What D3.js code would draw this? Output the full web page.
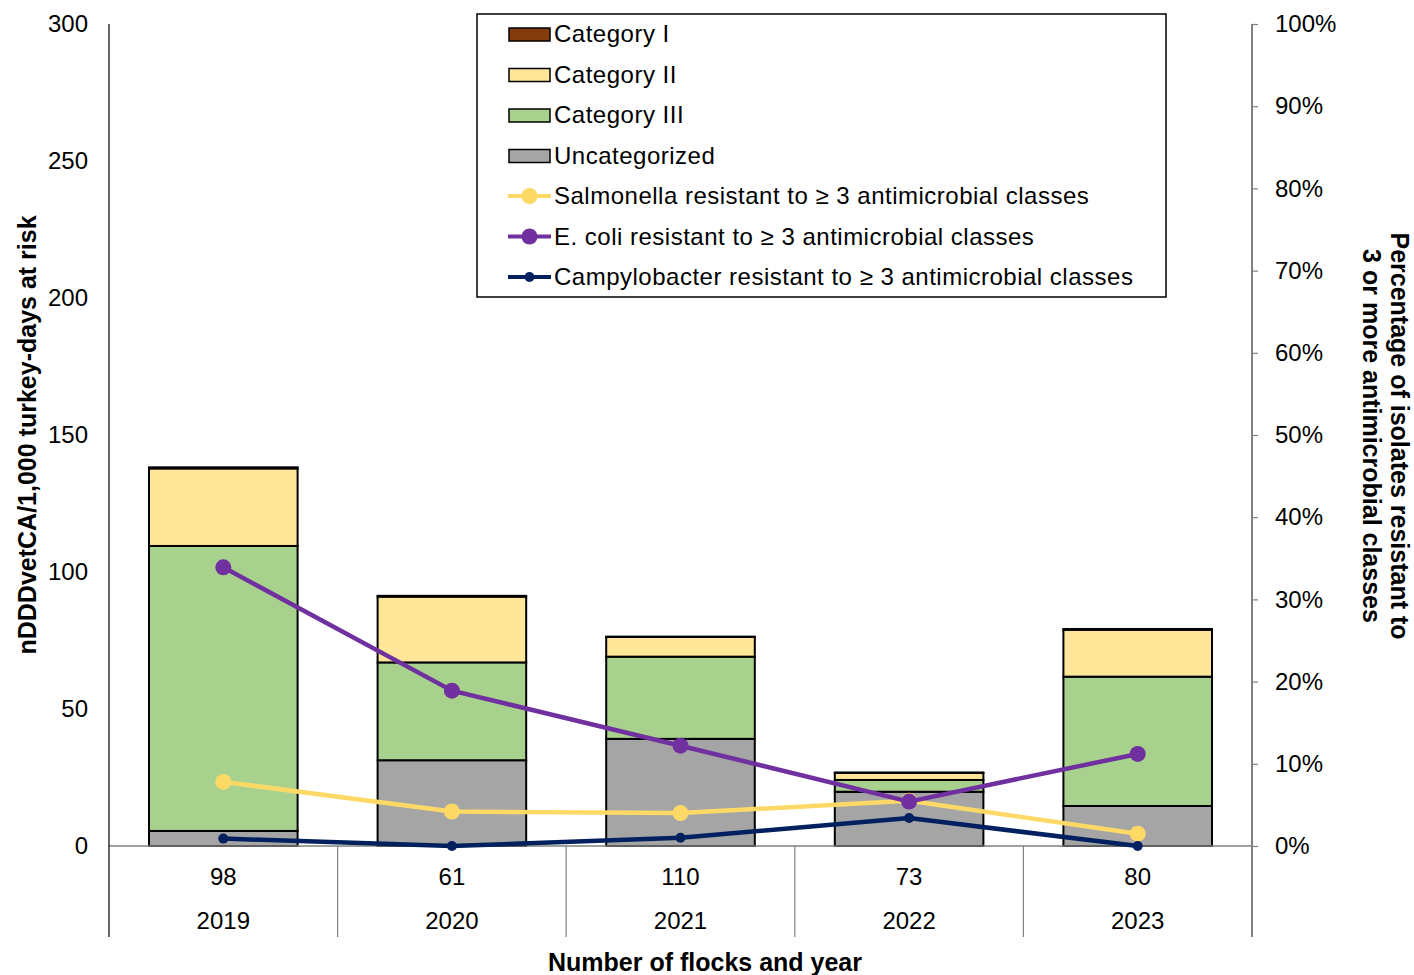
<!DOCTYPE html>
<html>
<head>
<meta charset="utf-8">
<script src="https://cdn.jsdelivr.net/npm/d3@7"></script>
<style>
  html, body { margin: 0; padding: 0; background: #fff; }
  svg { display: block; font-family: "Liberation Sans", Arial, sans-serif; }
</style>
</head>
<body>
<svg id="chart" width="1414" height="975"></svg>
<script>
// Antimicrobial use by category (nDDDvetCA/1,000 turkey-days at risk)
const years = ["2019", "2020", "2021", "2022", "2023"];
const flocks = ["98", "61", "110", "73", "80"];
const uncategorized = [5.5, 31.3, 39.1, 19.8, 14.6];
const categoryIII = [104.0, 35.7, 30.0, 4.3, 47.2];
const categoryII = [28.3, 24.0, 7.2, 2.6, 17.1];
const categoryI = [0.4, 0.3, 0.1, 0.1, 0.3];

// Percentage of isolates resistant to >= 3 antimicrobial classes
const salmonella = [7.8, 4.2, 4.0, 5.5, 1.5];
const ecoli = [33.9, 18.9, 12.2, 5.4, 11.2];
const campylobacter = [0.9, 0.0, 1.0, 3.4, 0.0];

const leftTicks = [0, 50, 100, 150, 200, 250, 300];
const rightTicks = [0, 10, 20, 30, 40, 50, 60, 70, 80, 90, 100];

const stackKeys = ["Uncategorized", "Category III", "Category II", "Category I"];
const stackColors = {
  "Category I": "#843c0c",
  "Category II": "#ffe699",
  "Category III": "#a9d18e",
  "Uncategorized": "#a5a5a5"
};
const rows = years.map((y, i) => ({
  year: y,
  "Uncategorized": uncategorized[i],
  "Category III": categoryIII[i],
  "Category II": categoryII[i],
  "Category I": categoryI[i]
}));

const lineSeries = [
  { name: "Salmonella resistant to \u2265 3 antimicrobial classes", values: salmonella, color: "#ffd966", r: 8 },
  { name: "E. coli resistant to \u2265 3 antimicrobial classes", values: ecoli, color: "#7030a0", r: 8 },
  { name: "Campylobacter resistant to \u2265 3 antimicrobial classes", values: campylobacter, color: "#002060", r: 5 }
];

const svg = d3.select("#chart");
const plot = { left: 109, right: 1252, top: 24, bottom: 846 };
const labelSize = 24;
const titleSize = 25;

const x = d3.scaleBand().domain(years).range([plot.left, plot.right]).paddingInner(0.35).paddingOuter(0.175);
const xc = d3.scaleBand().domain(years).range([plot.left, plot.right]);
const yL = d3.scaleLinear().domain([0, 300]).range([plot.bottom, plot.top]);
const yR = d3.scaleLinear().domain([0, 100]).range([plot.bottom, plot.top]);

// Stacked bars
const stacked = d3.stack().keys(stackKeys)(rows);
svg.append("g").selectAll("g").data(stacked).join("g")
  .attr("fill", d => stackColors[d.key])
  .selectAll("rect").data(d => d).join("rect")
  .attr("x", d => x(d.data.year))
  .attr("width", x.bandwidth())
  .attr("y", d => yL(d[1]))
  .attr("height", d => yL(d[0]) - yL(d[1]))
  .attr("stroke", "#000")
  .attr("stroke-width", 2);

// Baseline
svg.append("line")
  .attr("x1", plot.left).attr("x2", plot.right)
  .attr("y1", yL(0)).attr("y2", yL(0))
  .attr("stroke", "#808080").attr("stroke-width", 1.5);

// Left axis (labels only, plus axis line down through the category table)
const leftAxis = svg.append("g");
leftAxis.append("line")
  .attr("x1", plot.left).attr("x2", plot.left)
  .attr("y1", plot.top).attr("y2", 937)
  .attr("stroke", "#000").attr("stroke-width", 1.2);
leftAxis.selectAll("text").data(leftTicks).join("text")
  .attr("x", 88).attr("y", d => yL(d))
  .attr("dy", "0.35em")
  .attr("text-anchor", "end")
  .attr("font-size", labelSize)
  .attr("fill", "#000")
  .text(d => d);

// Right axis
const rightAxis = svg.append("g").attr("transform", `translate(${plot.right},0)`)
  .call(d3.axisRight(yR).tickValues(rightTicks).tickSize(6).tickPadding(17).tickFormat(d => d + "%"));
rightAxis.select(".domain").remove();
rightAxis.selectAll(".tick line").attr("stroke", "#808080").attr("stroke-width", 1.2);
rightAxis.selectAll(".tick text").attr("font-size", labelSize).attr("fill", "#000")
  .attr("font-family", "Liberation Sans, Arial, sans-serif");
svg.append("line")
  .attr("x1", plot.right).attr("x2", plot.right)
  .attr("y1", plot.top).attr("y2", 937)
  .attr("stroke", "#808080").attr("stroke-width", 2);

// Category table separators
const seps = years.slice(1).map(y => xc(y));
svg.append("g").selectAll("line").data(seps).join("line")
  .attr("x1", d => d).attr("x2", d => d)
  .attr("y1", plot.bottom).attr("y2", 937)
  .attr("stroke", "#808080").attr("stroke-width", 1.2);

// Flock counts and years
svg.append("g").selectAll("text").data(flocks).join("text")
  .attr("x", (d, i) => xc(years[i]) + xc.bandwidth() / 2)
  .attr("y", 877).attr("dy", "0.35em")
  .attr("text-anchor", "middle").attr("font-size", labelSize)
  .text(d => d);
svg.append("g").selectAll("text").data(years).join("text")
  .attr("x", d => xc(d) + xc.bandwidth() / 2)
  .attr("y", 921).attr("dy", "0.35em")
  .attr("text-anchor", "middle").attr("font-size", labelSize)
  .text(d => d);

// Resistance lines
const line = d3.line().x((d, i) => xc(years[i]) + xc.bandwidth() / 2).y(d => yR(d));
lineSeries.forEach(s => {
  svg.append("path").datum(s.values)
    .attr("d", line)
    .attr("fill", "none")
    .attr("stroke", s.color)
    .attr("stroke-width", 4.5)
    .attr("stroke-linejoin", "round");
  svg.append("g").selectAll("circle").data(s.values).join("circle")
    .attr("cx", (d, i) => xc(years[i]) + xc.bandwidth() / 2)
    .attr("cy", d => yR(d))
    .attr("r", s.r)
    .attr("fill", s.color);
});

// Axis titles
svg.append("text")
  .attr("transform", "translate(36,435) rotate(-90)")
  .attr("text-anchor", "middle")
  .attr("font-size", titleSize).attr("font-weight", "bold")
  .text("nDDDvetCA/1,000 turkey-days at risk");
svg.append("text")
  .attr("x", 705).attr("y", 971)
  .attr("text-anchor", "middle")
  .attr("font-size", titleSize).attr("font-weight", "bold")
  .text("Number of flocks and year");
const rt = svg.append("text")
  .attr("transform", "translate(1391,436) rotate(90)")
  .attr("text-anchor", "middle")
  .attr("font-size", titleSize).attr("font-weight", "bold");
rt.append("tspan").attr("x", 0).attr("dy", 0).text("Percentage of isolates resistant to");
rt.append("tspan").attr("x", 0).attr("dy", 28).text("3 or more antimicrobial classes");

// Legend
const legend = svg.append("g");
legend.append("rect")
  .attr("x", 477).attr("y", 14).attr("width", 689).attr("height", 283)
  .attr("fill", "#fff").attr("stroke", "#000").attr("stroke-width", 1.5);
const barLegend = ["Category I", "Category II", "Category III", "Uncategorized"];
const rowY = i => 34 + i * 40.5;
barLegend.forEach((k, i) => {
  legend.append("rect")
    .attr("x", 509).attr("y", rowY(i) - 6).attr("width", 41).attr("height", 13)
    .attr("fill", stackColors[k]).attr("stroke", "#000").attr("stroke-width", 1.5);
  legend.append("text")
    .attr("x", 554).attr("y", rowY(i)).attr("dy", "0.35em")
    .attr("font-size", labelSize).attr("letter-spacing", 0.5).text(k);
});
lineSeries.forEach((s, j) => {
  const cy = rowY(j + 4);
  legend.append("line")
    .attr("x1", 508).attr("x2", 551).attr("y1", cy).attr("y2", cy)
    .attr("stroke", s.color).attr("stroke-width", 4);
  legend.append("circle").attr("cx", 529.5).attr("cy", cy).attr("r", s.r).attr("fill", s.color);
  legend.append("text")
    .attr("x", 554).attr("y", cy).attr("dy", "0.35em")
    .attr("font-size", labelSize).attr("letter-spacing", 0.5).text(s.name);
});
</script>
</body>
</html>
